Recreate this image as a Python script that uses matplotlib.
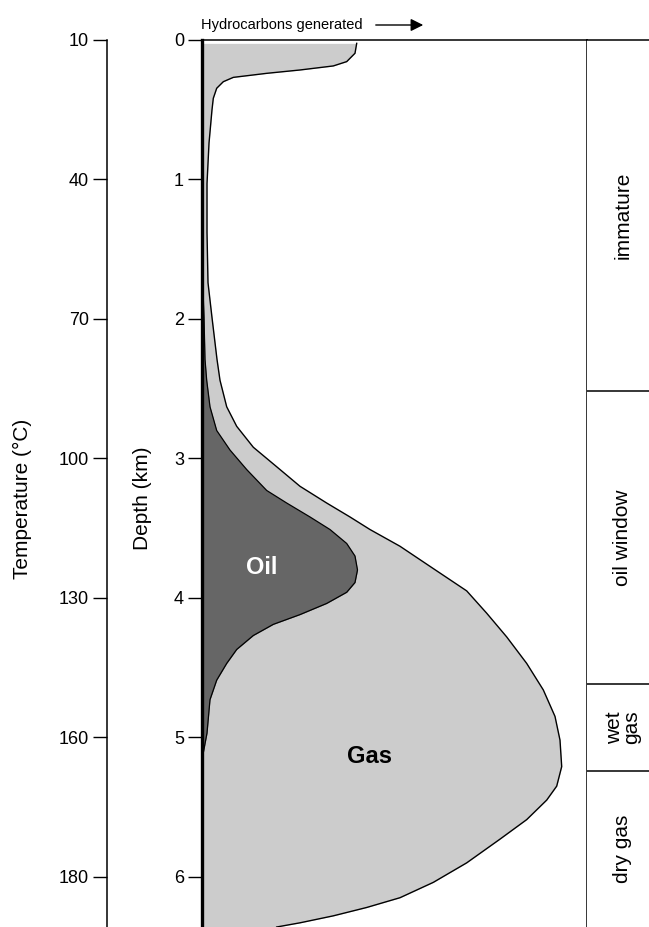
import matplotlib
matplotlib.use("Agg")
import matplotlib.pyplot as plt
from matplotlib.patches import FancyArrowPatch

plt.rcParams['font.family'] = ['Liberation Sans', 'DejaVu Sans']

# total hydrocarbons generated (depth km, relative amount)
total_depth = [0.024, 0.095, 0.155, 0.186, 0.215, 0.239, 0.268, 0.299, 0.346, 0.418,
               0.50, 0.74, 1.03, 1.38, 1.74, 1.99, 2.29, 2.44, 2.63, 2.77, 2.92,
               3.06, 3.20, 3.32, 3.42, 3.51, 3.63, 3.79, 3.95, 4.11, 4.28, 4.47,
               4.66, 4.85, 5.02, 5.21, 5.35, 5.45, 5.59, 5.73, 5.90, 6.04, 6.15,
               6.22, 6.28, 6.33, 6.36]
total_amount = [1.547, 1.53, 1.447, 1.313, 0.98, 0.647, 0.313, 0.213, 0.147, 0.113,
                0.10, 0.07, 0.05, 0.05, 0.06, 0.10, 0.15, 0.18, 0.247, 0.347, 0.513,
                0.747, 0.98, 1.247, 1.48, 1.68, 1.98, 2.313, 2.647, 2.847, 3.047, 3.247,
                3.413, 3.53, 3.58, 3.597, 3.547, 3.447, 3.247, 2.98, 2.647, 2.313, 1.98,
                1.647, 1.313, 0.98, 0.747]

# oil generated
oil_depth = [1.60, 1.99, 2.29, 2.44, 2.63, 2.80, 2.94, 3.08, 3.23, 3.32, 3.42,
             3.51, 3.61, 3.70, 3.80, 3.89, 3.96, 4.04, 4.12, 4.19, 4.27, 4.37,
             4.47, 4.59, 4.73, 4.97, 5.16]
oil_amount = [0.0, 0.02, 0.03, 0.047, 0.08, 0.147, 0.28, 0.447, 0.647, 0.847, 1.08,
              1.28, 1.447, 1.53, 1.555, 1.53, 1.447, 1.247, 0.98, 0.713, 0.513, 0.347,
              0.247, 0.147, 0.08, 0.05, 0.0]

depth_ticks = [0, 1, 2, 3, 4, 5, 6]
temp_labels = ['10', '40', '70', '100', '130', '160', '180']

stage_bounds = [0, 2.52, 4.62, 5.24, 6.36]
stage_names = ['immature', 'oil window', 'wet\ngas', 'dry gas']

ymax = 6.36
W, H = 649, 927
fig = plt.figure(figsize=(W / 100, H / 100), dpi=100)
top = 1 - 40 / H

# main panel
ax = fig.add_axes([202 / W, 0, (587 - 202) / W, top])
ax.fill_betweenx(total_depth, 0, total_amount, color='#cccccc', lw=0)
ax.plot(total_amount, total_depth, color='black', lw=1)
ax.fill_betweenx(oil_depth, 0, oil_amount, color='#666666', lw=0)
ax.plot(oil_amount, oil_depth, color='black', lw=0.9)
ax.set_xlim(0, 3.85)
ax.set_ylim(ymax, 0)
ax.set_xticks([])
ax.set_yticks(depth_ticks)
ax.set_yticklabels([str(d) for d in depth_ticks])
ax.tick_params(axis='y', length=10, width=1, labelsize=13, pad=3)
ax.spines['bottom'].set_visible(False)
ax.spines['left'].set_linewidth(2.4)
ax.spines['top'].set_linewidth(1.1)
ax.spines['right'].set_linewidth(1.1)
ax.text(0.60, 3.78, 'Oil', color='white', fontsize=17, fontweight='bold',
        ha='center', va='center')
ax.text(1.67, 5.14, 'Gas', color='black', fontsize=17, fontweight='bold',
        ha='center', va='center')

# temperature axis
axt = fig.add_axes([107 / W, 0, 0.001, top])
axt.set_ylim(ymax, 0)
axt.set_xticks([])
axt.set_yticks(depth_ticks)
axt.set_yticklabels(temp_labels)
axt.tick_params(axis='y', length=10, width=1, labelsize=13, pad=3)
for s in ['top', 'right', 'bottom']:
    axt.spines[s].set_visible(False)
axt.spines['left'].set_linewidth(1.1)

fig.text(22 / W, 1 - 499 / H, 'Temperature (°C)', rotation=90, ha='center',
         va='center', fontsize=15)
fig.text(143 / W, 1 - 498 / H, 'Depth (km)', rotation=90, ha='center',
         va='center', fontsize=15)

# maturity stage column
axs = fig.add_axes([587 / W, 0, (W - 587) / W, top])
axs.set_xlim(0, 1)
axs.set_ylim(ymax, 0)
axs.set_xticks([])
axs.set_yticks([])
for s in ['right', 'bottom', 'left']:
    axs.spines[s].set_visible(False)
axs.spines['top'].set_linewidth(1.1)
for b in stage_bounds[1:-1]:
    axs.axhline(b, color='black', lw=1.1)
for i, name in enumerate(stage_names):
    mid = (stage_bounds[i] + stage_bounds[i + 1]) / 2
    axs.text(0.58, mid, name, rotation=90, ha='center', va='center',
             fontsize=15, linespacing=0.9)

# header
fig.text(282 / W, 1 - 25 / H, 'Hydrocarbons generated', ha='center',
         va='center', fontsize=10.5)
fig.patches.append(FancyArrowPatch(
    (373 / W, 1 - 25 / H), (426 / W, 1 - 25 / H), transform=fig.transFigure,
    arrowstyle='-|>,head_length=5,head_width=2.5', color='black', lw=1,
    mutation_scale=1.5))

fig.savefig('out.png', dpi=100)
